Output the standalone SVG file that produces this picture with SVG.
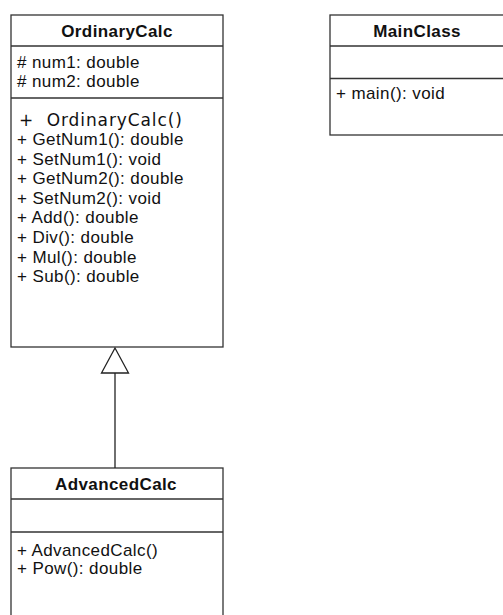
<svg xmlns="http://www.w3.org/2000/svg" width="503" height="615" viewBox="0 0 503 615">
<style>
.box{fill:#ffffff;stroke:#333333;stroke-width:1.3}
.sep{stroke:#333333;stroke-width:1.3}
.t{font-family:"Liberation Sans",Arial,sans-serif;font-size:17px;fill:#111111;letter-spacing:0.4px}
.h{font-family:"Liberation Sans",Arial,sans-serif;font-size:17px;font-weight:bold;fill:#111111;text-anchor:middle;letter-spacing:0.4px}
.c{font-family:"DejaVu Sans",sans-serif;font-size:17px;fill:#111111;letter-spacing:0.9px}
.edge{stroke:#222222;stroke-width:1.3;fill:none}
.tri{fill:#ffffff;stroke:#222222;stroke-width:1.3}
</style>
<rect width="503" height="615" fill="#ffffff"/>
<g id="OrdinaryCalc">
<rect class="box" x="11" y="15" width="212" height="332"/>
<line class="sep" x1="11" y1="46" x2="223" y2="46"/>
<line class="sep" x1="11" y1="98" x2="223" y2="98"/>
<text class="h" x="117" y="36.5">OrdinaryCalc</text>
<text class="t" x="17" y="68"># num1: double</text>
<text class="t" x="17" y="87"># num2: double</text>
<text class="c" x="19" y="126" xml:space="preserve">+  OrdinaryCalc()</text>
<text class="t" x="17" y="145">+ GetNum1(): double</text>
<text class="t" x="17" y="164.6">+ SetNum1(): void</text>
<text class="t" x="17" y="184.2">+ GetNum2(): double</text>
<text class="t" x="17" y="203.8">+ SetNum2(): void</text>
<text class="t" x="17" y="223.4">+ Add(): double</text>
<text class="t" x="17" y="243">+ Div(): double</text>
<text class="t" x="17" y="262.6">+ Mul(): double</text>
<text class="t" x="17" y="282.2">+ Sub(): double</text>
</g>
<g id="MainClass">
<rect class="box" x="330" y="15" width="180" height="120"/>
<line class="sep" x1="330" y1="46" x2="510" y2="46"/>
<line class="sep" x1="330" y1="78.5" x2="510" y2="78.5"/>
<text class="h" x="417" y="36.5">MainClass</text>
<text class="t" x="336" y="99">+ main(): void</text>
</g>
<g id="AdvancedCalc">
<rect class="box" x="11" y="468" width="212" height="160"/>
<line class="sep" x1="11" y1="499" x2="223" y2="499"/>
<line class="sep" x1="11" y1="532" x2="223" y2="532"/>
<text class="h" x="116" y="490">AdvancedCalc</text>
<text class="t" x="17" y="556">+ AdvancedCalc()</text>
<text class="t" x="17" y="574">+ Pow(): double</text>
</g>
<g id="connectors">
<line class="edge" x1="115" y1="373" x2="115" y2="468"/>
<polygon class="tri" points="115,348 101.5,373 128.5,373"/>
</g>
</svg>
